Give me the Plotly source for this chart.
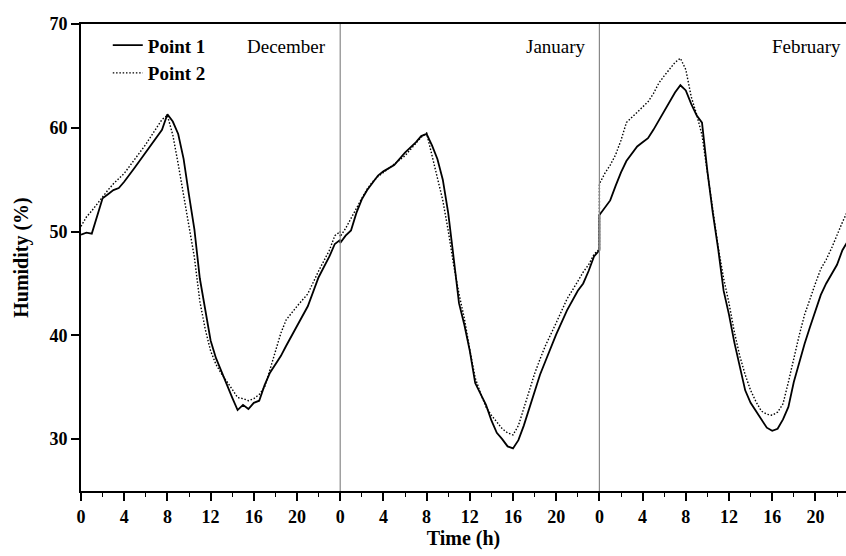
import plotly.graph_objects as go

months = ["December", "January", "February"]

# hours within each month's day
dec_t = [0, 0.5, 1, 1.5, 2, 2.5, 3, 3.5, 4, 5, 6, 7, 7.5, 8, 8.5, 9, 9.5, 10, 10.5, 11, 11.5, 12, 12.5, 13, 13.5, 14, 14.5, 15, 15.5, 16, 16.5, 17, 17.5, 18, 18.5, 19, 19.5, 20, 21, 22, 23, 23.5, 24]
dec_p1 = [49.7, 49.9, 49.8, 51.5, 53.2, 53.6, 54.0, 54.2, 54.8, 56.2, 57.6, 59.0, 59.8, 61.3, 60.6, 59.4, 57.0, 53.5, 50.2, 45.5, 42.5, 39.5, 37.8, 36.5, 35.3, 34.0, 32.8, 33.3, 32.9, 33.5, 33.7, 35.2, 36.4, 37.2, 38.0, 39.0, 39.9, 40.9, 42.8, 45.6, 47.6, 48.8, 49.2]
dec_p2 = [50.5, 51.4, 52.0, 52.7, 53.4, 54.0, 54.6, 55.1, 55.6, 57.0, 58.4, 60.0, 60.8, 61.2, 59.3, 56.5, 53.4, 50.5, 47.5, 43.3, 40.6, 38.5, 37.2, 36.3, 35.6, 34.8, 34.0, 33.9, 33.7, 33.9, 34.3, 35.0, 36.7, 38.5, 40.2, 41.5, 42.2, 42.8, 44.0, 46.2, 48.2, 49.6, 50.0]

jan_t = [0, 0.5, 1, 1.5, 2, 2.5, 3, 3.5, 4, 5, 6, 7, 7.5, 8, 8.5, 9, 9.5, 10, 10.5, 11, 11.5, 12, 12.5, 13, 13.5, 14, 14.5, 15, 15.5, 16, 16.5, 17, 17.5, 18, 18.5, 19, 20, 21, 22, 22.5, 23, 23.5, 24]
jan_p1 = [48.9, 49.6, 50.1, 51.8, 53.1, 54.0, 54.7, 55.4, 55.8, 56.4, 57.6, 58.6, 59.2, 59.4, 58.3, 57.0, 55.0, 51.8, 47.5, 43.1, 41.0, 38.5, 35.4, 34.3, 33.3, 31.8, 30.6, 30.0, 29.3, 29.1, 29.9, 31.3, 32.9, 34.6, 36.2, 37.5, 40.1, 42.4, 44.3, 45.0, 46.2, 47.6, 48.2]
jan_p2 = [49.5, 50.3, 51.3, 52.3, 53.2, 54.1, 54.8, 55.3, 55.7, 56.5, 57.3, 58.5, 59.1, 59.5, 57.3, 55.2, 53.0, 50.1, 46.8, 44.0, 41.6, 38.6, 35.9, 34.4, 33.1, 32.3, 31.6, 31.0, 30.6, 30.4, 31.3, 33.0, 34.5, 36.3, 37.7, 39.0, 41.2, 43.5, 45.2, 46.1, 46.8, 47.8, 48.3]

feb_t = [0, 0.5, 1, 1.5, 2, 2.5, 3, 3.5, 4, 4.5, 5, 5.5, 6, 6.5, 7, 7.5, 8, 8.5, 9, 9.5, 10, 10.5, 11, 11.5, 12, 12.5, 13, 13.5, 14, 14.5, 15, 15.5, 16, 16.5, 17, 17.5, 18, 18.5, 19, 19.5, 20, 20.5, 21, 21.5, 22, 22.5, 22.9]
feb_p1 = [51.6, 52.3, 53.0, 54.4, 55.7, 56.8, 57.5, 58.2, 58.6, 59.0, 59.8, 60.7, 61.7, 62.6, 63.4, 64.1, 63.6, 62.3, 61.2, 60.5, 55.8, 51.8, 48.3, 44.3, 42.0, 39.3, 37.0, 34.7, 33.5, 32.7, 32.0, 31.1, 30.8, 31.0, 31.9, 33.1, 35.5, 37.4, 39.2, 40.8, 42.4, 43.9, 45.0, 45.9, 46.8, 48.2, 48.9]
feb_p2 = [54.6, 55.6, 56.4, 57.4, 58.8, 60.5, 61.0, 61.5, 62.0, 62.5, 63.3, 64.3, 65.0, 65.7, 66.3, 66.7, 65.6, 63.0, 61.3, 59.3, 55.8, 51.9, 48.5, 45.5, 43.1, 40.3, 38.0, 36.2, 34.7, 33.6, 32.7, 32.4, 32.3, 32.6, 33.4, 35.5, 37.8, 40.0, 42.0, 43.6, 45.0, 46.4, 47.3, 48.4, 49.7, 50.9, 51.8]

tick_hours = [0, 4, 8, 12, 16, 20]
y_ticks = [30, 40, 50, 60, 70]

# build continuous time axis (each month spans 24 h)
x_all, p1_all, p2_all = [], [], []
for i, (t, a, b) in enumerate([(dec_t, dec_p1, dec_p2), (jan_t, jan_p1, jan_p2), (feb_t, feb_p1, feb_p2)]):
    x_all += [v + 24 * i for v in t]
    p1_all += a
    p2_all += b

FONT = "Liberation Serif"

fig = go.Figure()
fig.add_trace(go.Scatter(x=x_all, y=p1_all, mode="lines", name="<b>Point 1</b>",
                         line=dict(color="black", width=1.8)))
fig.add_trace(go.Scatter(x=x_all, y=p2_all, mode="lines", name="<b>Point 2</b>",
                         line=dict(color="black", width=1.4, dash="1.5px,1.8px")))

tickvals = [h + 24 * i for i in range(3) for h in tick_hours]
ticktext = [str(h) for i in range(3) for h in tick_hours]

x_max = 765 / 10.8

fig.update_xaxes(range=[0, x_max], tickvals=tickvals, ticktext=ticktext,
                 ticks="outside", ticklen=8, tickwidth=1.5, tickcolor="black",
                 minor=dict(dtick=2, tick0=0, ticks="outside", ticklen=4, tickwidth=1.2, tickcolor="black"),
                 showline=True, linecolor="black", linewidth=1.8, mirror=True,
                 showgrid=False, zeroline=False,
                 tickfont=dict(family=FONT, size=18, color="black", weight="bold"),
                 title=dict(text="Time (h)", font=dict(family=FONT, size=20, color="black", weight="bold"), standoff=4))
fig.update_yaxes(range=[25, 70], tickvals=y_ticks,
                 ticks="outside", ticklen=8, tickwidth=1.5, tickcolor="black",
                 showline=True, linecolor="black", linewidth=1.8,
                 showgrid=False, zeroline=False,
                 tickfont=dict(family=FONT, size=18, color="black", weight="bold"),
                 title=dict(text="Humidity (%)", font=dict(family=FONT, size=20, color="black", weight="bold"), standoff=16))

# month separators
for i in (1, 2):
    fig.add_shape(type="line", xref="x", yref="paper", x0=24 * i, x1=24 * i, y0=0, y1=1,
                  line=dict(color="#888888", width=1.2))

# month labels
for i, m in enumerate(months):
    fig.add_annotation(x=24 * i + 22.9 if i < 2 else 70.6, y=1, xref="x", yref="paper",
                       xanchor="right", yanchor="top", yshift=-10, text=m, showarrow=False,
                       font=dict(family=FONT, size=19, color="black"))

fig.update_layout(width=846, height=556, margin=dict(l=81, r=0, t=24, b=65),
                  plot_bgcolor="white", paper_bgcolor="white",
                  font=dict(family=FONT, color="black"),
                  legend=dict(x=0.035, y=0.995, xanchor="left", yanchor="top",
                              bgcolor="rgba(0,0,0,0)", font=dict(family=FONT, size=19, color="black"),
                              tracegroupgap=0, itemwidth=30))

fig.write_html("out.html")
